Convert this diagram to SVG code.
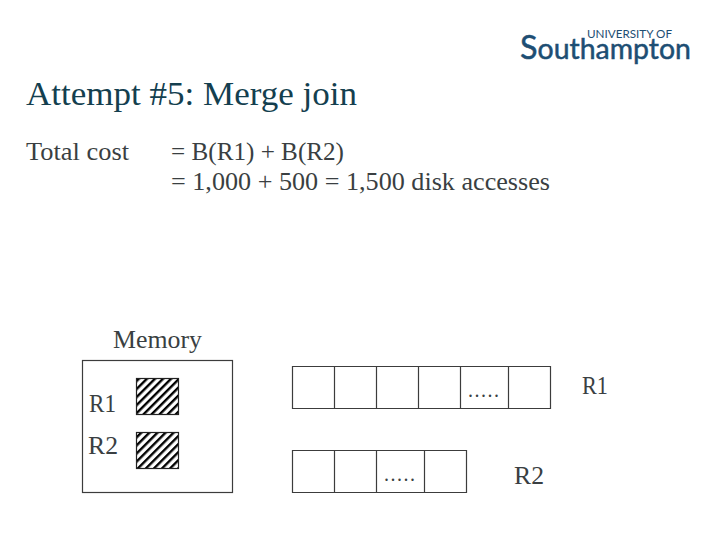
<svg xmlns="http://www.w3.org/2000/svg" width="720" height="540" viewBox="0 0 720 540">
<style>
text{font-family:"Liberation Serif","Times New Roman",serif;fill:#3a3f42}
.t{font-size:34px;fill:#143f4f}
.b{font-size:25px}
.d{font-size:20px}
.box{fill:none;stroke:#3c3c3c;stroke-width:1.2}
.h{fill:url(#hatch);stroke:#222;stroke-width:1.2}
.logo{font-family:"Lato","Open Sans",sans-serif;fill:#1d4e73}
</style>
<defs>
<pattern id="hatch" patternUnits="userSpaceOnUse" width="5.700" height="5.700" patternTransform="rotate(-45)">
<rect width="5.700" height="5.700" fill="#fff"/>
<rect width="5.700" height="2.400" fill="#000"/>
</pattern>
</defs>
<rect width="720" height="540" fill="#fff"/>
<g id="logo">
<text class="logo" x="587" y="37.500" font-size="11.500" textLength="85" lengthAdjust="spacingAndGlyphs">UNIVERSITY OF</text>
<text class="logo" x="520" y="59" font-size="29" stroke="#1d4e73" stroke-width="0.500" textLength="171" lengthAdjust="spacingAndGlyphs"><tspan font-size="33">S</tspan>outhampton</text>
</g>
<text class="t" x="26" y="105" textLength="331" lengthAdjust="spacingAndGlyphs">Attempt #5: Merge join</text>
<text class="b" x="26" y="160" textLength="103" lengthAdjust="spacingAndGlyphs">Total cost</text>
<text class="b" x="171" y="160" textLength="173" lengthAdjust="spacingAndGlyphs">= B(R1) + B(R2)</text>
<text class="b" x="171" y="190" textLength="379" lengthAdjust="spacingAndGlyphs">= 1,000 + 500 = 1,500 disk accesses</text>
<g id="memory">
<text class="b" x="113" y="348" textLength="89" lengthAdjust="spacingAndGlyphs">Memory</text>
<rect class="box" x="82.500" y="360.500" width="150" height="132"/>
<text class="b" x="89" y="412" textLength="27" lengthAdjust="spacingAndGlyphs">R1</text>
<text class="b" x="88" y="454" textLength="30" lengthAdjust="spacingAndGlyphs">R2</text>
<rect class="h" x="136.500" y="378.500" width="42" height="36"/>
<rect class="h" x="136.500" y="432.500" width="42" height="36"/>
</g>
<g id="r1">
<path class="box" d="M292.500 366.500H550.500V408.500H292.500ZM334.500 366.500V408.500M376.500 366.500V408.500M418.500 366.500V408.500M460.500 366.500V408.500M508.500 366.500V408.500"/>
<text class="d" x="468" y="397" textLength="31" lengthAdjust="spacing">.....</text>
<text class="b" x="582" y="394" textLength="26" lengthAdjust="spacingAndGlyphs">R1</text>
</g>
<g id="r2">
<path class="box" d="M292.500 450.500H466.500V492.500H292.500ZM334.500 450.500V492.500M376.500 450.500V492.500M424.500 450.500V492.500"/>
<text class="d" x="384" y="481" textLength="31" lengthAdjust="spacing">.....</text>
<text class="b" x="514" y="484" textLength="30" lengthAdjust="spacingAndGlyphs">R2</text>
</g>
</svg>
